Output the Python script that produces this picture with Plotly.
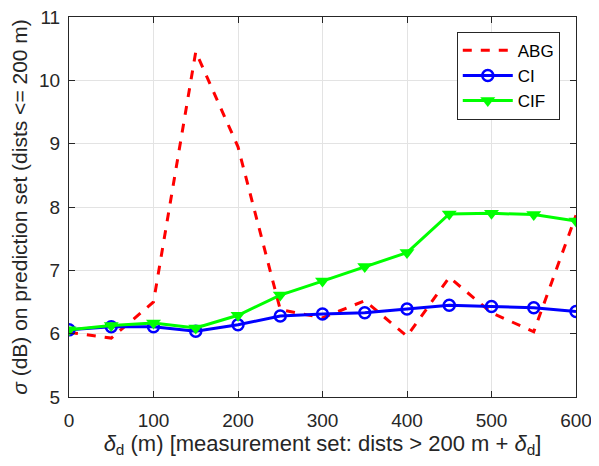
import plotly.graph_objects as go

delta_d = [0, 50, 100, 150, 200, 250, 300, 350, 400, 450, 500, 550, 600]
abg = [6.02, 5.93, 6.5, 10.45, 8.95, 6.38, 6.25, 6.52, 5.96, 6.89, 6.33, 6.03, 7.87]
ci = [6.06, 6.11, 6.11, 6.04, 6.14, 6.28, 6.31, 6.33, 6.39, 6.45, 6.43, 6.41, 6.35]
cif = [6.06, 6.13, 6.17, 6.09, 6.29, 6.61, 6.83, 7.06, 7.28, 7.89, 7.9, 7.88, 7.78]
x_ticks = [0, 100, 200, 300, 400, 500, 600]
y_ticks = [5, 6, 7, 8, 9, 10, 11]

FONT = "Liberation Sans, Arial, sans-serif"
TXT = "#262626"

fig = go.Figure()
fig.add_trace(go.Scatter(x=delta_d, y=abg, name="ABG", mode="lines", legendgroup="a",
                         line=dict(color="#ff0000", width=3, dash="dash")))
fig.add_trace(go.Scatter(x=delta_d, y=ci, name="CI", mode="lines+markers", legendgroup="b",
                         line=dict(color="#0000ff", width=3),
                         marker=dict(symbol="circle-open", size=11, color="#0000ff",
                                     line=dict(width=2.5, color="#0000ff"))))
fig.add_trace(go.Scatter(x=delta_d, y=cif, name="CIF", mode="lines+markers", legendgroup="c",
                         line=dict(color="#00ff00", width=3),
                         marker=dict(symbol="triangle-down", size=13, color="#00ff00")))

axis_common = dict(showline=True, linecolor=TXT, linewidth=1, mirror="ticks",
                   ticks="inside", ticklen=6, tickcolor=TXT, automargin=False,
                   showgrid=True, gridcolor="#e3e3e3", gridwidth=1, zeroline=False,
                   ticklabeloverflow="allow",
                   tickfont=dict(family=FONT, size=19, color=TXT))

fig.update_xaxes(range=[0, 600], tickvals=x_ticks, ticklabelstandoff=6,
                 title=dict(text="<i>δ</i><sub>d</sub> (m) [measurement set: dists > 200 m + <i>δ</i><sub>d</sub>]",
                            font=dict(family=FONT, size=22, color=TXT), standoff=3),
                 **axis_common)
fig.update_yaxes(range=[5, 11], tickvals=y_ticks, ticklabelstandoff=4,
                 title=dict(text="<i>σ</i> (dB) on prediction set (dists <= 200 m)",
                            font=dict(family=FONT, size=21, color=TXT), standoff=5),
                 **axis_common)

# the page body adds an 8 px offset, so the figure is sized to fit the window
fig.update_layout(
    width=591, height=458,
    margin=dict(l=61, r=23, t=9, b=69),
    paper_bgcolor="white", plot_bgcolor="white",
    font=dict(family=FONT, size=19, color=TXT),
    showlegend=True,
    legend=dict(x=0.968, y=0.961, xanchor="right", yanchor="top",
                bgcolor="white", bordercolor=TXT, borderwidth=1,
                font=dict(family=FONT, size=17, color="#000000"),
                tracegroupgap=0, itemwidth=50),
)

fig.write_html("out.html")
